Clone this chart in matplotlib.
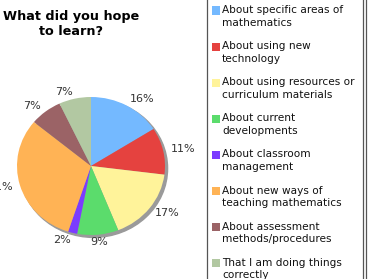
import matplotlib
matplotlib.use('Agg')
import matplotlib.pyplot as plt
import numpy as np
from matplotlib.patches import Circle, Rectangle
from matplotlib.lines import Line2D

# Data
title = 'What did you hope\nto learn?'
labels = [
    'About specific areas of\nmathematics',
    'About using new\ntechnology',
    'About using resources or\ncurriculum materials',
    'About current\ndevelopments',
    'About classroom\nmanagement',
    'About new ways of\nteaching mathematics',
    'About assessment\nmethods/procedures',
    'That I am doing things\ncorrectly',
]
values = [16, 11, 17, 9, 2, 31, 7, 7]
colors = ['#74b9ff', '#e5423f', '#fff39a', '#5bdc6c',
          '#7b3cff', '#ffb355', '#9b6366', '#b2c8a2']

W, H = 370, 279
fig = plt.figure(figsize=(W / 100, H / 100), dpi=100)


def fx(px):
    return px / W


def fy(py):
    return 1 - py / H


# pie (slightly wider than tall, like the original)
cx, cy, rx, ry = 91, 166, 74, 69
ax = fig.add_axes([fx(cx - rx), fy(cy + ry), 2 * rx / W, 2 * ry / H])
ax.add_patch(Circle((0.035, -0.035), 1.0, color='#9a9a9a', zorder=0, clip_on=False))
wedges, texts = ax.pie(values, colors=colors, startangle=90, counterclock=False,
                       labels=['%d%%' % v for v in values], labeldistance=1.1,
                       textprops=dict(fontsize=8, color='#333333'),
                       wedgeprops=dict(linewidth=0))
for w in wedges:
    w.set_zorder(1)
    w.set_clip_on(False)
for t in texts:
    x, y = t.get_position()
    if abs(x) < 0.15:
        t.set_ha('center')
    t.set_va('center')
    t.set_clip_on(False)
ax.set_xlim(-1, 1)
ax.set_ylim(-1, 1)
ax.set_aspect('auto')
ax.axis('off')

# title
fig.text(fx(71), fy(24), title, ha='center', va='center', fontsize=9.2,
         fontweight='bold', linespacing=1.25)

# legend box
fig.add_artist(Line2D([fx(207), fx(207)], [0, 1], color='#555555', lw=0.9))
fig.add_artist(Line2D([fx(363), fx(363)], [0, 1], color='#555555', lw=0.9))
fig.add_artist(Line2D([fx(366), fx(366)], [0, 1], color='#555555', lw=0.9))

for i, (lab, c) in enumerate(zip(labels, colors)):
    y0 = 10 + i * 36.1
    fig.add_artist(Rectangle((fx(212), fy(y0 + 4.5)), 8 / W, 8 / H,
                             facecolor=c, edgecolor='none'))
    for j, line in enumerate(lab.split('\n')):
        fig.text(fx(222), fy(y0 + j * 12.5), line, ha='left', va='center',
                 fontsize=7.6, color='#111111')

fig.savefig('out.png', dpi=100)
